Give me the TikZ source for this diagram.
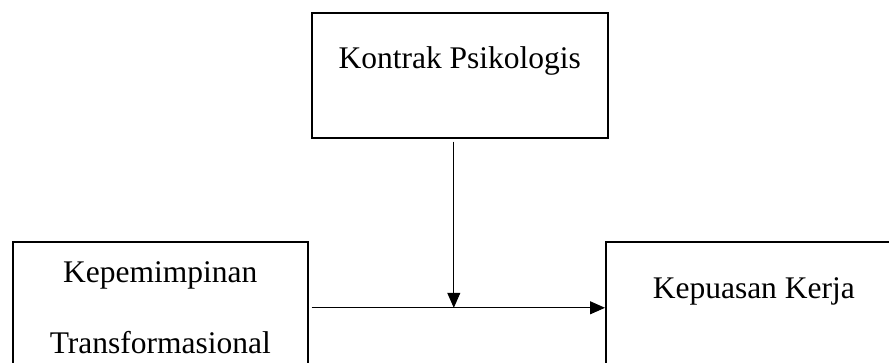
\documentclass[tikz,border=0pt]{standalone}
\usepackage{fontspec}
\setmainfont{Liberation Serif}
\usetikzlibrary{arrows.meta}

\tikzset{
  varbox/.style={draw, line width=1.6pt, inner xsep=0pt, inner ysep=0pt, minimum width=296pt,
    anchor=north west, align=center, font=\fontsize{31.5}{71}\selectfont},
  link/.style={line width=1pt, -{Triangle[length=15pt,width=13pt]}}
}

\begin{document}
\begin{tikzpicture}[x=1pt,y=-1pt]
%%Frame
\clip (0,0) rectangle (889,363);
%%Variables
\node[varbox, text height=56pt, text depth=69pt] (kontrak) at (311,12) {Kontrak Psikologis};
\node[varbox, text height=112pt, text depth=13pt, minimum width=295pt] (kepemimpinan) at (12,241) {Kepemimpinan\\Transformasional};
\node[varbox, text height=57pt, text depth=68pt] (kepuasan) at (605,241) {Kepuasan Kerja};
%%Arrows
\coordinate (cross) at ([yshift=-3.5pt]kepemimpinan.east);
\draw[link] ([xshift=3pt]cross) -- (kepuasan.west |- cross);
\draw[link] ([xshift=-6pt,yshift=-3pt]kontrak.south) -- ([xshift=-6pt]kontrak.south |- cross);
\end{tikzpicture}
\end{document}
